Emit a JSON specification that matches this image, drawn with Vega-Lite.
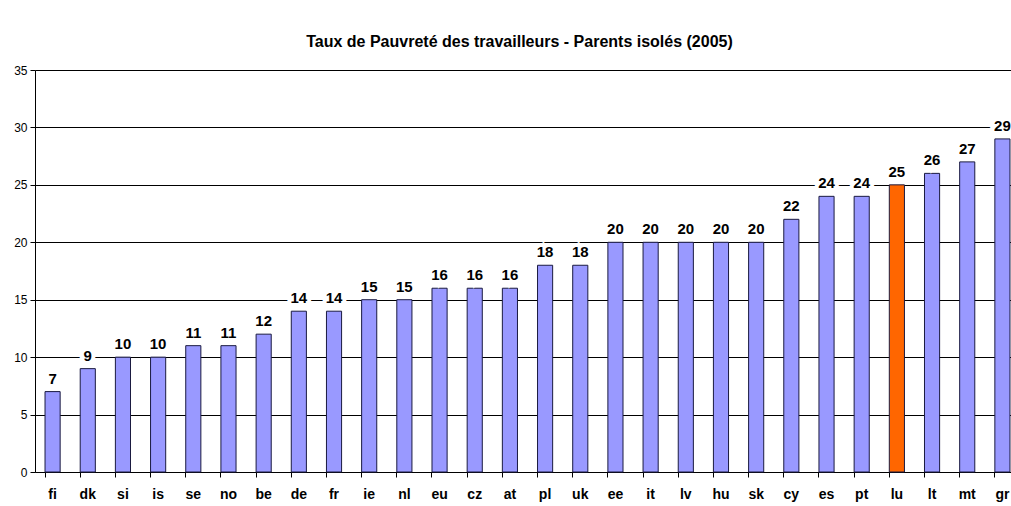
{
  "$schema": "https://vega.github.io/schema/vega-lite/v6.json",
  "width": 985,
  "height": 402,
  "autosize": {"type": "none"},
  "padding": {"left": 35, "top": 70, "right": 0, "bottom": 34},
  "background": "white",
  "title": {
    "text": "Taux de Pauvreté des travailleurs - Parents isolés  (2005)",
    "font": "Liberation Sans, Arial",
    "fontSize": 16,
    "fontWeight": "bold",
    "color": "black",
    "anchor": "middle",
    "offset": 14,
    "dx": -8
  },
  "config": {
    "view": {"stroke": null},
    "axis": {"labelFont": "Liberation Sans, Arial", "labelColor": "black"}
  },
  "data": {
    "values": [
      {"pays": "fi", "taux": 7},
      {"pays": "dk", "taux": 9},
      {"pays": "si", "taux": 10},
      {"pays": "is", "taux": 10},
      {"pays": "se", "taux": 11},
      {"pays": "no", "taux": 11},
      {"pays": "be", "taux": 12},
      {"pays": "de", "taux": 14},
      {"pays": "fr", "taux": 14},
      {"pays": "ie", "taux": 15},
      {"pays": "nl", "taux": 15},
      {"pays": "eu", "taux": 16},
      {"pays": "cz", "taux": 16},
      {"pays": "at", "taux": 16},
      {"pays": "pl", "taux": 18},
      {"pays": "uk", "taux": 18},
      {"pays": "ee", "taux": 20},
      {"pays": "it", "taux": 20},
      {"pays": "lv", "taux": 20},
      {"pays": "hu", "taux": 20},
      {"pays": "sk", "taux": 20},
      {"pays": "cy", "taux": 22},
      {"pays": "es", "taux": 24},
      {"pays": "pt", "taux": 24},
      {"pays": "lu", "taux": 25},
      {"pays": "lt", "taux": 26},
      {"pays": "mt", "taux": 27},
      {"pays": "gr", "taux": 29}
    ]
  },
  "encoding": {
    "x": {
      "field": "pays",
      "type": "nominal",
      "sort": null,
      "scale": {"paddingInner": 0.57, "paddingOuter": 0.285},
      "axis": {
        "title": null,
        "labelAngle": 0,
        "labelFontSize": 14,
        "labelFontWeight": "bold",
        "labelPadding": 10,
        "bandPosition": 0,
        "tickColor": "black",
        "tickSize": 5,
        "domainColor": "black",
        "grid": false
      }
    },
    "y": {
      "field": "taux",
      "type": "quantitative",
      "scale": {"domain": [0, 35]},
      "axis": {
        "title": null,
        "values": [0, 5, 10, 15, 20, 25, 30, 35],
        "labelFontSize": 12,
        "labelPadding": 3,
        "tickColor": "black",
        "tickSize": 5,
        "domainColor": "black",
        "gridColor": "black",
        "gridOpacity": 1,
        "gridWidth": 1
      }
    }
  },
  "layer": [
    {
      "mark": {"type": "bar", "stroke": "#1a1a40", "strokeWidth": 1},
      "encoding": {
        "color": {
          "condition": {"test": "datum.pays === 'lu'", "value": "#FF6600"},
          "value": "#9999FF"
        }
      }
    },
    {
      "mark": {
        "type": "text",
        "baseline": "bottom",
        "dy": -5,
        "font": "Liberation Sans, Arial",
        "fontSize": 15,
        "fontWeight": "bold",
        "color": "white",
        "stroke": "white",
        "strokeWidth": 8
      },
      "encoding": {"text": {"field": "taux", "type": "quantitative"}}
    },
    {
      "mark": {
        "type": "text",
        "baseline": "bottom",
        "dy": -5,
        "font": "Liberation Sans, Arial",
        "fontSize": 15,
        "fontWeight": "bold",
        "color": "black"
      },
      "encoding": {"text": {"field": "taux", "type": "quantitative"}}
    }
  ]
}
